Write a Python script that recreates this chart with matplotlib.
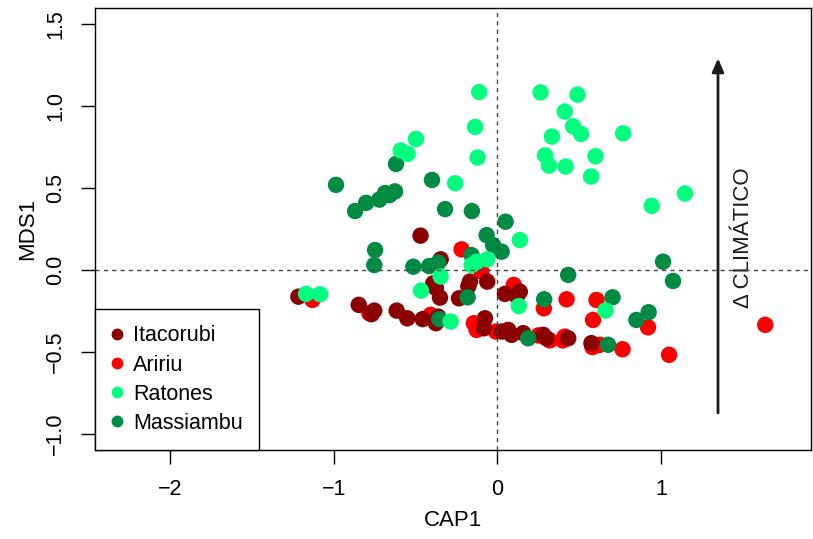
import matplotlib.pyplot as plt

plt.rcParams['font.family'] = ['Liberation Sans', 'DejaVu Sans']

# CAP1 / MDS1 scores per site
itacorubi_x = [-0.47, -0.347, -0.392, -0.376, -0.351, -0.168, -0.178, -0.062, -0.235, -1.217,
               -0.848, -0.753, -0.77, -0.616, -0.551, -0.457, -0.362, -0.376, -0.076, -0.082,
               0.046, 0.137, 0.12, 0.575, 0.433, 0.28, 0.30, 0.158, 0.087, 0.066, 0.026]
itacorubi_y = [0.21, 0.065, -0.081, -0.11, -0.169, -0.071, -0.10, -0.071, -0.173, -0.163,
               -0.213, -0.248, -0.27, -0.248, -0.295, -0.30, -0.285, -0.325, -0.295, -0.356,
               -0.146, -0.132, -0.16, -0.447, -0.417, -0.396, -0.417, -0.386, -0.396, -0.366, -0.376]

aririu_x = [-0.219, -0.097, -1.131, -0.783, -0.408, -0.144, -0.127, -0.009, 0.10, 0.284,
            0.423, 0.606, 0.585, 0.921, 1.638, 1.05, 0.765, 0.581, 0.626, 0.412,
            0.40, 0.25, 0.32]
aririu_y = [0.126, -0.01, -0.183, -0.264, -0.274, -0.325, -0.366, -0.376, -0.091, -0.234,
            -0.179, -0.183, -0.305, -0.35, -0.335, -0.518, -0.484, -0.471, -0.457, -0.407,
            -0.43, -0.40, -0.43]

ratones_x = [-0.111, -0.136, -0.121, -0.498, -0.591, -0.549, -0.258, 0.264, 0.49, 0.412,
             0.463, 0.512, 0.333, 0.769, 0.292, 0.315, 0.417, 0.60, 0.573, 1.147,
             0.944, 0.137, -0.347, -0.467, -0.158, -0.127, -0.062, -1.17, -1.084, -0.286,
             0.131, 0.661]
ratones_y = [1.087, 0.874, 0.687, 0.80, 0.73, 0.71, 0.53, 1.085, 1.071, 0.968,
             0.878, 0.831, 0.815, 0.835, 0.70, 0.638, 0.632, 0.695, 0.571, 0.467,
             0.392, 0.183, -0.04, -0.126, 0.03, 0.05, 0.065, -0.146, -0.148, -0.315,
             -0.22, -0.248]

massiambu_x = [-0.62, -0.987, -0.40, -0.87, -0.803, -0.722, -0.687, -0.66, -0.626, -0.32,
               -0.156, -0.066, 0.05, -0.026, 0.026, -0.748, -0.753, -0.514, -0.417, -0.362,
               -0.158, -0.182, -0.355, 0.286, 0.433, 0.704, 0.85, 0.925, 1.013, 1.074,
               0.677, 0.188]
massiambu_y = [0.648, 0.52, 0.55, 0.36, 0.41, 0.43, 0.47, 0.457, 0.48, 0.372,
               0.36, 0.213, 0.295, 0.152, 0.112, 0.122, 0.03, 0.02, 0.024, 0.045,
               0.091, -0.167, -0.30, -0.179, -0.03, -0.167, -0.305, -0.258, 0.051, -0.067,
               -0.457, -0.417]

sites = ['Itacorubi', 'Aririu', 'Ratones', 'Massiambu']
colors = {'Itacorubi': '#8B0000', 'Aririu': '#FF0000',
          'Ratones': '#00FF7F', 'Massiambu': '#008B45'}
data = {'Itacorubi': (itacorubi_x, itacorubi_y), 'Aririu': (aririu_x, aririu_y),
        'Ratones': (ratones_x, ratones_y), 'Massiambu': (massiambu_x, massiambu_y)}

fig = plt.figure(figsize=(8.13, 5.39), dpi=100)
ax = fig.add_axes([0.117, 0.165, 0.881, 0.82])

# plotting order decides which dots sit on top
for name in ['Aririu', 'Itacorubi', 'Massiambu', 'Ratones']:
    x, y = data[name]
    ax.scatter(x, y, s=140, color=colors[name], edgecolors='none', zorder=3)

ax.axhline(0, color='#444444', lw=1, ls=(0, (3, 3)), zorder=4)
ax.axvline(0, color='#444444', lw=1, ls=(0, (3, 3)), zorder=4)

ax.set_xlim(-2.46, 1.92)
ax.set_ylim(-1.1, 1.6)
ax.set_xticks([-2, -1, 0, 1])
ax.set_yticks([-1.0, -0.5, 0.0, 0.5, 1.0, 1.5])
ax.set_yticklabels(['\u22121.0', '\u22120.5', '0.0', '0.5', '1.0', '1.5'],
                   rotation=90, va='center')
ax.tick_params(direction='out', length=10, width=1, labelsize=15.5, pad=11)
for sp in ax.spines.values():
    sp.set_linewidth(1)
ax.set_xlabel('CAP1', fontsize=16, labelpad=7)
ax.set_ylabel('MDS1', fontsize=16, labelpad=5)

# climate gradient arrow
ax.annotate('', xy=(1.349, 1.31), xytext=(1.349, -0.89),
            arrowprops=dict(arrowstyle='-|>,head_length=0.8,head_width=0.35',
                            color='#1a1a1a', lw=2), zorder=5)
ax.text(1.503, 0.195, '\u0394 CLIM\u00c1TICO', rotation=90, fontsize=16,
        ha='center', va='center', color='#1a1a1a')

handles = [plt.Line2D([], [], marker='o', ls='none', ms=7.5, color=colors[n]) for n in sites]
leg = ax.legend(handles, sites, loc='lower left', fontsize=15.5, frameon=True,
                fancybox=False, edgecolor='black', framealpha=1, borderaxespad=0,
                handletextpad=0.5, labelspacing=0.38, borderpad=0.75, handlelength=0.5)
leg.get_frame().set_linewidth(1)

fig.savefig('out.png', dpi=100)
